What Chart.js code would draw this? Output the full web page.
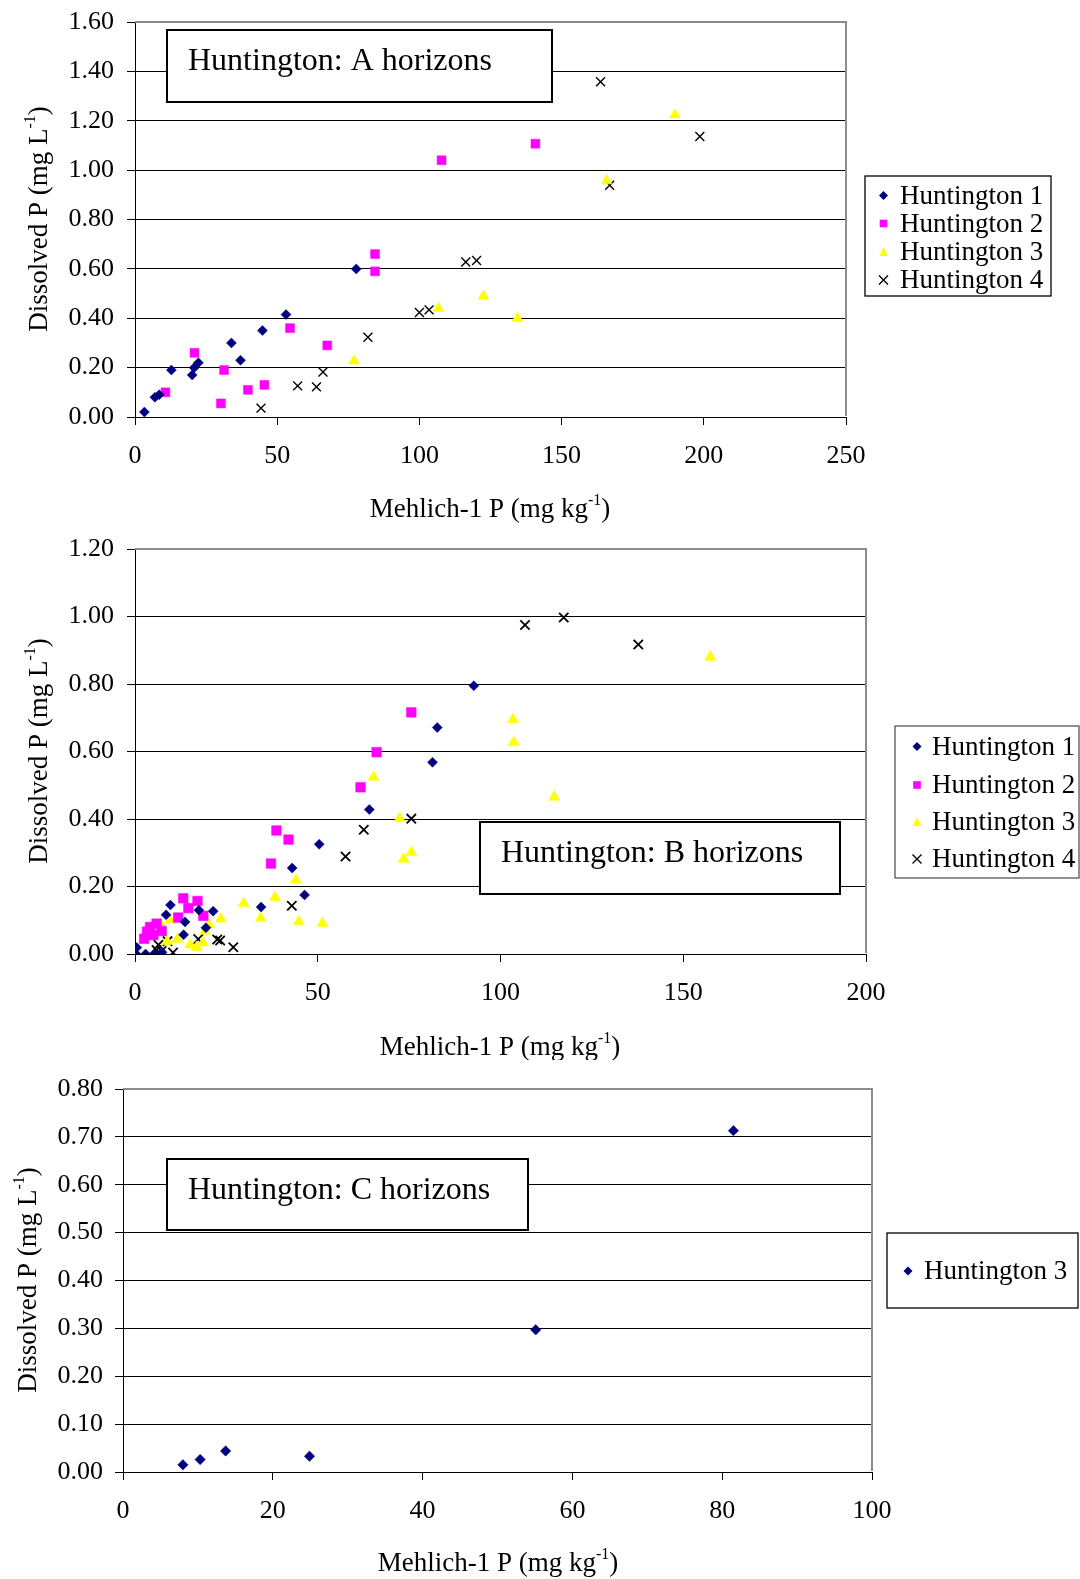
<!DOCTYPE html>
<html>
<head>
<meta charset="utf-8">
<script src="https://cdn.jsdelivr.net/npm/chart.js@4.4.1/dist/chart.umd.min.js"></script>
<style>
html, body { margin: 0; padding: 0; background: #fff; }
#wrap { position: relative; width: 1080px; height: 1579px; }
canvas { position: absolute; left: 0; }
</style>
</head>
<body>
<div id="wrap">
  <canvas id="chartA" width="1080" height="525" style="top:0px"></canvas>
  <canvas id="chartB" width="1080" height="535" style="top:525px"></canvas>
  <canvas id="chartC" width="1080" height="519" style="top:1060px"></canvas>
</div>
<script>
// values: [Mehlich-1 P, dissolved P]
const a_h1 = [[3.3,0.02],[7,0.08],[8.5,0.09],[12.8,0.19],[20.1,0.17],[20.8,0.20],[22.3,0.22],[33.9,0.30],[37.1,0.23],[44.8,0.35],[53.1,0.415],[77.8,0.60]];
const a_h2 = [[10.7,0.10],[20.9,0.26],[31.3,0.19],[30.2,0.055],[39.7,0.11],[45.5,0.13],[54.5,0.36],[67.6,0.29],[84.4,0.66],[84.4,0.59],[107.8,1.04],[140.8,1.107]];
const a_h3 = [[77,0.227],[106.7,0.44],[122.5,0.49],[134.5,0.40],[165.8,0.957],[189.8,1.224]];
const a_h4 = [[44.3,0.036],[57.2,0.126],[63.8,0.122],[66.1,0.182],[81.9,0.323],[100,0.423],[103.4,0.434],[116.3,0.628],[120.1,0.634],[163.7,1.358],[166.9,0.939],[198.6,1.136]];

const b_h1 = [[0.3,0],[0.5,0.019],[2.9,0],[5.2,0],[7.4,0.005],[8.5,0.116],[9.7,0.145],[13.3,0.057],[13.7,0.095],[17.5,0.13],[19.4,0.078],[21.4,0.127],[34.5,0.139],[43,0.255],[46.4,0.175],[50.4,0.325],[64.1,0.428],[81.4,0.568],[82.7,0.671],[92.7,0.795]];
const b_h2 = [[2.5,0.045],[3.3,0.066],[4.1,0.08],[5.9,0.09],[5.0,0.056],[7.3,0.068],[11.8,0.108],[13.2,0.165],[14.6,0.136],[17.1,0.157],[18.7,0.113],[37.2,0.268],[38.7,0.366],[42,0.339],[61.7,0.494],[66.1,0.598],[75.6,0.716]];
const b_h3 = [[7,0.088],[8.8,0.037],[9.6,0.10],[11.6,0.044],[15.1,0.027],[16.8,0.02],[18.6,0.033],[19.2,0.068],[20.3,0.087],[23.5,0.104],[29.7,0.15],[34.4,0.106],[38.3,0.168],[44,0.219],[44.8,0.096],[51.3,0.091],[65.3,0.524],[72.4,0.402],[73.5,0.281],[75.6,0.301],[103.4,0.695],[103.6,0.627],[114.7,0.465],[157.4,0.88]];
const b_h4 = [[3.5,0.058],[3.9,0.066],[5.9,0.012],[6.4,0.027],[7.3,0.009],[8.9,0.038],[10.4,0.004],[17.3,0.044],[22.5,0.043],[23.3,0.04],[26.9,0.02],[42.9,0.143],[57.6,0.289],[62.6,0.368],[75.6,0.401],[106.7,0.975],[117.3,0.997],[137.7,0.917]];

const c_h3 = [[8,0.015],[10.3,0.026],[13.7,0.044],[24.9,0.033],[55.1,0.297],[81.5,0.713]];

const seriesNames = ['Huntington 1', 'Huntington 2', 'Huntington 3', 'Huntington 4'];
const xTitle = ['Mehlich-1 P (mg kg', '-1', ')'];
const yTitle = ['Dissolved P (mg L', '-1', ')'];

const FONT = '"Liberation Serif", "Times New Roman", serif';
const NAVY = '#000080', MAGENTA = '#ff00ff', YELLOW = '#ffff00', BLACK = '#000000';

function xy(arr) { return arr.map(p => ({x: p[0], y: p[1]})); }

function drawMarker(ctx, shape, x, y, r, color) {
  ctx.save();
  ctx.fillStyle = color;
  ctx.strokeStyle = color;
  ctx.beginPath();
  if (shape === 'rectRot') {
    ctx.moveTo(x, y - r); ctx.lineTo(x + r, y); ctx.lineTo(x, y + r); ctx.lineTo(x - r, y);
    ctx.closePath(); ctx.fill();
  } else if (shape === 'rect') {
    ctx.fillRect(x - r, y - r, 2 * r, 2 * r);
  } else if (shape === 'triangle') {
    ctx.moveTo(x, y - r); ctx.lineTo(x + r * 0.85, y + r * 0.8); ctx.lineTo(x - r * 0.85, y + r * 0.8);
    ctx.closePath(); ctx.fill();
  } else {
    ctx.lineWidth = 1.4;
    ctx.moveTo(x - r, y - r); ctx.lineTo(x + r, y + r);
    ctx.moveTo(x + r, y - r); ctx.lineTo(x - r, y + r);
    ctx.stroke();
  }
  ctx.restore();
}

function drawSupText(ctx, x, y, rot, parts, size) {
  ctx.save();
  ctx.translate(x, y);
  ctx.rotate(rot);
  const big = size + 'px ' + FONT, small = Math.round(size * 0.6) + 'px ' + FONT;
  ctx.font = big;
  const w1 = ctx.measureText(parts[0]).width, w3 = ctx.measureText(parts[2]).width;
  ctx.font = small;
  const w2 = ctx.measureText(parts[1]).width;
  let sx = -(w1 + w2 + w3) / 2;
  const base = size * 0.33;
  ctx.fillStyle = '#000';
  ctx.textAlign = 'left';
  ctx.textBaseline = 'alphabetic';
  ctx.font = big; ctx.fillText(parts[0], sx, base); sx += w1;
  ctx.font = small; ctx.fillText(parts[1], sx, base - size * 0.45); sx += w2;
  ctx.font = big; ctx.fillText(parts[2], sx, base);
  ctx.restore();
}

// frame, title box, legend box and axis titles
const decor = {
  id: 'decor',
  afterDatasetsDraw(chart, args, o) {
    const ctx = chart.ctx, a = chart.chartArea;
    ctx.save();
    ctx.strokeStyle = '#8c8c8c';
    ctx.lineWidth = 2;
    ctx.beginPath();
    ctx.moveTo(a.left, a.top); ctx.lineTo(a.right, a.top); ctx.lineTo(a.right, a.bottom - 1);
    ctx.stroke();

    // title box
    const t = o.titleBox;
    ctx.fillStyle = '#fff';
    ctx.fillRect(t.x1, t.y1, t.x2 - t.x1, t.y2 - t.y1);
    ctx.strokeStyle = '#000';
    ctx.lineWidth = 2;
    ctx.strokeRect(t.x1, t.y1, t.x2 - t.x1, t.y2 - t.y1);
    ctx.fillStyle = '#000';
    ctx.font = '32px ' + FONT;
    ctx.textAlign = 'left';
    ctx.textBaseline = 'middle';
    ctx.fillText(t.text, t.tx, t.ty);

    // legend
    const l = o.legendBox;
    ctx.fillStyle = '#fff';
    ctx.fillRect(l.x1, l.y1, l.x2 - l.x1, l.y2 - l.y1);
    ctx.strokeStyle = l.border;
    ctx.lineWidth = 1.3;
    ctx.strokeRect(l.x1, l.y1, l.x2 - l.x1, l.y2 - l.y1);
    ctx.font = '27px ' + FONT;
    chart.data.datasets.forEach((ds, i) => {
      const ry = l.rows[i];
      const mr = ds.pointStyle === 'rect' ? 3.8 : ds.pointStyle === 'triangle' ? 5 : 4.5;
      drawMarker(ctx, ds.pointStyle, l.mx, ry, mr, ds.backgroundColor === 'transparent' ? BLACK : ds.backgroundColor);
      ctx.fillStyle = '#000';
      ctx.textBaseline = 'middle';
      ctx.fillText(ds.label, l.tx, ry + 1);
    });
    ctx.restore();

    drawSupText(ctx, o.xTitle.x, o.xTitle.y, 0, xTitle, 27);
    drawSupText(ctx, o.yTitle.x, o.yTitle.y, -Math.PI / 2, yTitle, 27);
  }
};

function makeDataset(label, pts, shape, color, r, bw) {
  const cross = shape === 'crossRot';
  return {
    label: label,
    data: xy(pts),
    pointStyle: shape,
    pointRadius: r,
    pointHoverRadius: r,
    backgroundColor: cross ? 'transparent' : color,
    borderColor: color,
    borderWidth: cross ? (bw || 1.4) : 0.5,
    showLine: false
  };
}

function makeOptions(xMax, xStep, yMax, yStep, area, h, deco, yPad) {
  return {
    responsive: false,
    animation: false,
    layout: { padding: { left: 0, top: area.t, right: 1080 - area.r, bottom: 0 } },
    plugins: { legend: { display: false }, tooltip: { enabled: false }, decor: deco },
    scales: {
      x: {
        type: 'linear', min: 0, max: xMax,
        ticks: { stepSize: xStep, color: '#000', padding: 16, font: { family: FONT, size: 26 } },
        grid: { drawOnChartArea: false, drawTicks: true, tickLength: 8, color: '#000' },
        border: { color: '#000', width: 1 },
        afterFit(s) { s.height = h - area.b; s.paddingLeft = 0; s.paddingRight = 0; }
      },
      y: {
        type: 'linear', min: 0, max: yMax,
        ticks: { stepSize: yStep, color: '#000', padding: yPad, font: { family: FONT, size: 26 },
          callback: v => Number(v).toFixed(2) },
        grid: { color: '#000', lineWidth: 1, tickLength: 8 },
        border: { color: '#000', width: 1 },
        afterFit(s) { s.width = area.l; s.paddingTop = 0; s.paddingBottom = 0; }
      }
    }
  };
}

const chartA = new Chart(document.querySelector('#chartA'), {
  type: 'scatter',
  data: { datasets: [
    makeDataset(seriesNames[0], a_h1, 'rectRot', NAVY, 5),
    makeDataset(seriesNames[1], a_h2, 'rect', MAGENTA, 6.3),
    makeDataset(seriesNames[2], a_h3, 'triangle', YELLOW, 6.2),
    makeDataset(seriesNames[3], a_h4, 'crossRot', BLACK, 6.3)
  ] },
  options: makeOptions(250, 50, 1.6, 0.2, { l: 135, t: 22, r: 846, b: 417 }, 525, {
    titleBox: { x1: 167, y1: 30, x2: 552, y2: 102, text: 'Huntington: A horizons', tx: 188, ty: 62 },
    legendBox: { x1: 865, y1: 176, x2: 1051, y2: 296, border: '#000', rows: [195.5, 223.5, 252, 280], mx: 883.5, tx: 900 },
    xTitle: { x: 490, y: 508 },
    yTitle: { x: 38, y: 219 }
  }, 13),
  plugins: [decor]
});

const chartB = new Chart(document.querySelector('#chartB'), {
  type: 'scatter',
  data: { datasets: [
    makeDataset(seriesNames[0], b_h1, 'rectRot', NAVY, 5),
    makeDataset(seriesNames[1], b_h2, 'rect', MAGENTA, 6.8),
    makeDataset(seriesNames[2], b_h3, 'triangle', YELLOW, 6.4),
    makeDataset(seriesNames[3], b_h4, 'crossRot', BLACK, 6.6, 1.8)
  ] },
  options: makeOptions(200, 50, 1.2, 0.2, { l: 135, t: 24, r: 866, b: 429 }, 535, {
    titleBox: { x1: 480, y1: 297, x2: 840, y2: 369, text: 'Huntington: B horizons', tx: 501, ty: 329 },
    legendBox: { x1: 895, y1: 201, x2: 1079, y2: 353, border: '#555', rows: [221.5, 260, 297, 334], mx: 917, tx: 932 },
    xTitle: { x: 500, y: 521 },
    yTitle: { x: 38, y: 226 }
  }, 13),
  plugins: [decor]
});

const chartC = new Chart(document.querySelector('#chartC'), {
  type: 'scatter',
  data: { datasets: [
    makeDataset(seriesNames[2], c_h3, 'rectRot', NAVY, 5.2)
  ] },
  options: makeOptions(100, 20, 0.8, 0.1, { l: 123, t: 29, r: 872, b: 412 }, 519, {
    titleBox: { x1: 167, y1: 99, x2: 528, y2: 170, text: 'Huntington: C horizons', tx: 188, ty: 131 },
    legendBox: { x1: 887, y1: 173, x2: 1078, y2: 248, border: '#000', rows: [211], mx: 908, tx: 924 },
    xTitle: { x: 498, y: 502 },
    yTitle: { x: 27, y: 220 }
  }, 12),
  plugins: [decor]
});
</script>
</body>
</html>
